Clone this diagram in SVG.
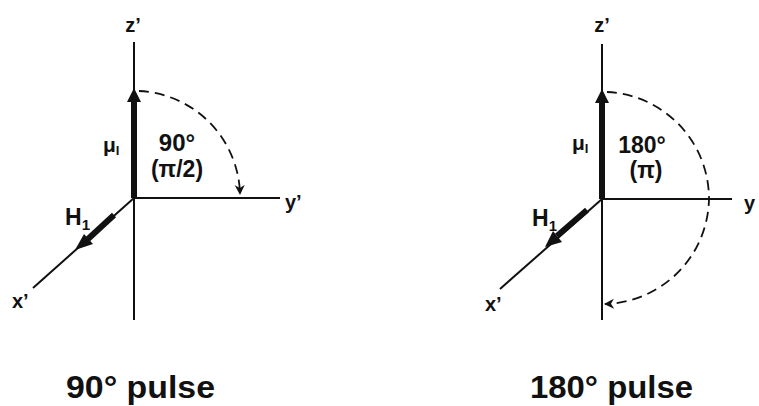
<svg xmlns="http://www.w3.org/2000/svg" width="759" height="406" viewBox="0 0 759 406">
<style>
.t{font-family:"Liberation Sans",Arial,sans-serif;font-weight:bold;fill:#111}
.ax{stroke:#111;stroke-width:2;fill:none}
.vec{stroke:#111;stroke-width:6;fill:none}
.arc{stroke:#111;stroke-width:1.8;fill:none;stroke-dasharray:10 6}
</style>
<defs>
<marker id="ah" markerWidth="12" markerHeight="12" refX="9" refY="5" orient="auto" markerUnits="userSpaceOnUse">
<path d="M0,0 L10,5 L0,10 L3,5 Z" fill="#111"/>
</marker>
</defs>
<rect width="759" height="406" fill="#fff"/>
<g id="left-diagram">
<g id="left-axes" class="connectors">
<line class="ax" x1="134" y1="42" x2="134" y2="320"/>
<line class="ax" x1="134" y1="198" x2="280" y2="198"/>
<line class="ax" x1="134" y1="198" x2="33" y2="288" stroke-width="1.8"/>
<line class="vec" x1="134" y1="198" x2="134" y2="100"/>
<polygon points="134,88 127,102 141,102" fill="#111"/>
<line class="vec" x1="114" y1="215" x2="88" y2="239" stroke-width="5"/>
<polygon points="75,250 84,234 93,244" fill="#111"/>
<path class="arc" d="M139,91 A106 106 0 0 1 240,194" marker-end="url(#ah)"/>
</g>
<g id="left-labels">
<text class="t" x="133" y="32" font-size="20" text-anchor="middle">z’</text>
<text class="t" x="285" y="209" font-size="20">y’</text>
<text class="t" x="12" y="308" font-size="20">x’</text>
<text class="t" x="65" y="225" font-size="23">H<tspan font-size="15" dy="5">1</tspan></text>
<text class="t" x="103" y="152" font-size="21">μ<tspan font-size="13" dy="3">I</tspan></text>
<text class="t" x="177" y="151" font-size="24" text-anchor="middle">90°</text>
<text class="t" x="177" y="177" font-size="23" text-anchor="middle">(π/2)</text>
</g>
</g>
<g id="right-diagram">
<g id="right-axes" class="connectors">
<line class="ax" x1="602" y1="44" x2="602" y2="320"/>
<line class="ax" x1="602" y1="199" x2="732" y2="199"/>
<line class="ax" x1="602" y1="199" x2="500" y2="289" stroke-width="1.8"/>
<line class="vec" x1="602" y1="199" x2="602" y2="102"/>
<polygon points="602,89 595,103 609,103" fill="#111"/>
<line class="vec" x1="587" y1="210" x2="557" y2="236" stroke-width="5"/>
<polygon points="545,247 553,231 562,242" fill="#111"/>
<path class="arc" d="M607,92 A107 107 0 0 1 709,199 A107 107 0 0 1 605,304" marker-end="url(#ah)"/>
</g>
<g id="right-labels">
<text class="t" x="602" y="32" font-size="20" text-anchor="middle">z’</text>
<text class="t" x="744" y="210" font-size="20">y</text>
<text class="t" x="485" y="311" font-size="20">x’</text>
<text class="t" x="532" y="226" font-size="23">H<tspan font-size="15" dy="5">1</tspan></text>
<text class="t" x="572" y="150" font-size="21">μ<tspan font-size="13" dy="3">I</tspan></text>
<text class="t" x="642" y="153" font-size="23" text-anchor="middle">180°</text>
<text class="t" x="646" y="178" font-size="23" text-anchor="middle">(π)</text>
</g>
</g>
<g id="captions">
<text class="t" x="66" y="398" font-size="32" textLength="149" lengthAdjust="spacingAndGlyphs">90° pulse</text>
<text class="t" x="530" y="398" font-size="32" textLength="163" lengthAdjust="spacingAndGlyphs">180° pulse</text>
</g>
</svg>
